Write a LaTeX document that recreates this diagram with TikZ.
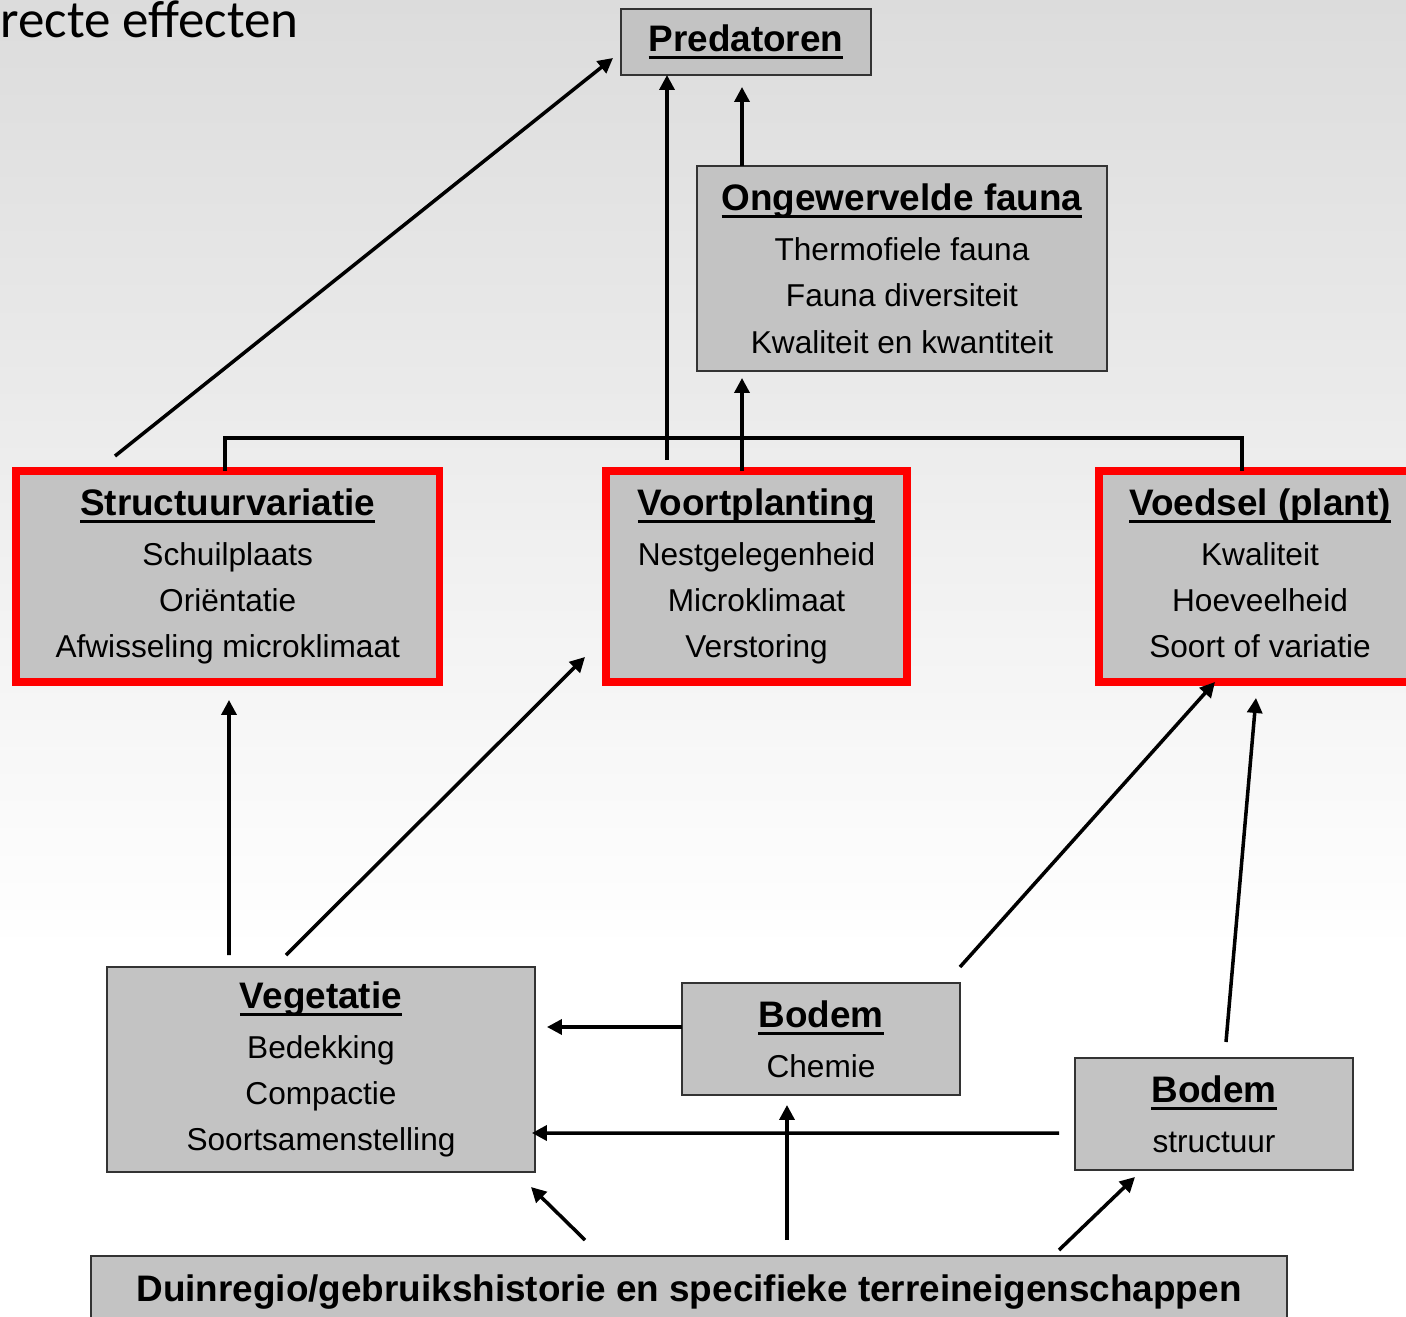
\documentclass[tikz,border=0pt]{standalone}
\usepackage{fontspec}
\setmainfont{Liberation Sans}
\newfontfamily\slidefont{Carlito}
\usetikzlibrary{arrows.meta,positioning,calc}
\definecolor{boxgrey}{HTML}{C3C3C3}
\definecolor{keyred}{HTML}{FF0000}
\definecolor{slidegrey}{HTML}{DCDCDC}

% underlined box title
\newcommand{\boxhead}[1]{{\fontsize{21}{26.4}\selectfont\bfseries
  \setbox0=\hbox{#1}\dp0=0pt\vtop{\box0\kern2.8pt\hrule height 1.8pt}}}

\begin{document}
\begin{tikzpicture}[x=0.02cm, y=-0.02cm,
    box/.style={draw=black!80, line width=1.3pt, fill=boxgrey, align=center,
      inner sep=0pt, outer sep=0pt, font=\fontsize{18}{26.4}\selectfont},
    keybox/.style={box, draw=keyred, line width=4.5pt},
    link/.style={line width=2pt},
    arr/.style={link, -{Triangle[length=0.3cm,width=0.3cm]}}]
        \useasboundingbox (0,0) rectangle (1406,1317);
        \clip (0,0) rectangle (1406,1317);

        % Background
        \shade[top color=slidegrey, bottom color=white] (0,0) rectangle (1406,950);
        \fill[white] (0,950) rectangle (1406,1317);

        % Heading
        \node[anchor=base west, inner sep=0pt, font=\slidefont\fontsize{30.2}{36}\selectfont] (kop) at (0,38) {recte effecten};

        % Predatoren
        \node[box, minimum width=5cm, minimum height=1.32cm] (pred) at (746,42) {\boxhead{Predatoren}};

        % Ongewervelde fauna
        \node[box, minimum width=8.2cm, minimum height=4.1cm] (fauna) at (902,268.5) {
            \boxhead{Ongewervelde fauna}\\[2pt]
            Thermofiele fauna\\
            Fauna diversiteit\\
            Kwaliteit en kwantiteit
        };

        % Key factors
        \node[keybox, minimum width=8.47cm, minimum height=4.22cm] (struc) at (227.75,576.5) {
            \boxhead{Structuurvariatie}\\[2pt]
            Schuilplaats\\
            Oriëntatie\\
            Afwisseling microklimaat
        };
        \node[keybox, minimum width=6.02cm, minimum height=4.22cm] (voort) at (756.5,576.5) {
            \boxhead{Voortplanting}\\[2pt]
            Nestgelegenheid\\
            Microklimaat\\
            Verstoring
        };
        \node[keybox, minimum width=6.44cm, minimum height=4.22cm] (voedsel) at (1260,576.5) {
            \boxhead{Voedsel (plant)}\\[2pt]
            Kwaliteit\\
            Hoeveelheid\\
            Soort of variatie\vphantom{g}
        };

        % Vegetatie and soil
        \node[box, minimum width=8.56cm, minimum height=4.1cm] (veg) at (321,1069.5) {
            \boxhead{Vegetatie}\\[2pt]
            Bedekking\\
            Compactie\\
            Soortsamenstelling
        };
        \node[box, minimum width=5.56cm, minimum height=2.24cm] (chemie) at (821,1039) {\boxhead{Bodem}\\[2pt] Chemie};
        \node[box, minimum width=5.56cm, minimum height=2.24cm] (bodem) at (1214,1114) {\boxhead{Bodem}\\[2pt] structuur};

        % Duinregio
        \node[box, minimum width=23.92cm, minimum height=1.44cm, font=\fontsize{21}{26.4}\selectfont\bfseries] (duin) at (689,1292)
            {Duinregio/gebruikshistorie en specifieke terreineigenschappen};

        % Links to the top
        \draw[arr] ([shift={(-112.75,-15)}]struc.north) -- ([shift={(-8,16)}]pred.west);
        \draw[arr] ([shift={(-89.5,-11)}]voort.north) -- ([shift={(-79,0)}]pred.south);
        \draw[arr] ([shift={(-160,0)}]fauna.north) -- ([shift={(-4,12)}]pred.south);
        \draw[link] ([shift={(-3,0)}]struc.north) -- ++(0,-33) -| ([shift={(-18,0)}]voedsel.north);
        \draw[arr] ([shift={(-14.5,0)}]voort.north) -- ([shift={(-160,7)}]fauna.south);

        % Links to the key factors
        \draw[arr] ([shift={(-92,-12)}]veg.north) -- ([shift={(1.25,18)}]struc.south);
        \draw[arr] ([shift={(-35,-12)}]veg.north) -- ([shift={(-21,-25)}]voort.south west);
        \draw[arr] ([shift={(0,-16)}]chemie.north east) -- ([shift={(-45,0)}]voedsel.south);
        \draw[arr] ([shift={(12,-16)}]bodem.north) -- ([shift={(-4,16)}]voedsel.south);

        % Links between soil and vegetatie
        \draw[arr] ([shift={(0,-12)}]chemie.west) -- ([shift={(12,-42.5)}]veg.east);
        \draw[arr] ([shift={(-16,19)}]bodem.west) -- ([shift={(-3,63.5)}]veg.east);

        % Links from Duinregio
        \draw[arr] ([shift={(-104,-16)}]duin.north) -- ([shift={(-4,15)}]veg.south east);
        \draw[arr] ([shift={(98,-16)}]duin.north) -- ([shift={(-34,10)}]chemie.south);
        \draw[arr] ([shift={(370,-6)}]duin.north) -- ([shift={(-79,7)}]bodem.south);
    \end{tikzpicture}
\end{document}
